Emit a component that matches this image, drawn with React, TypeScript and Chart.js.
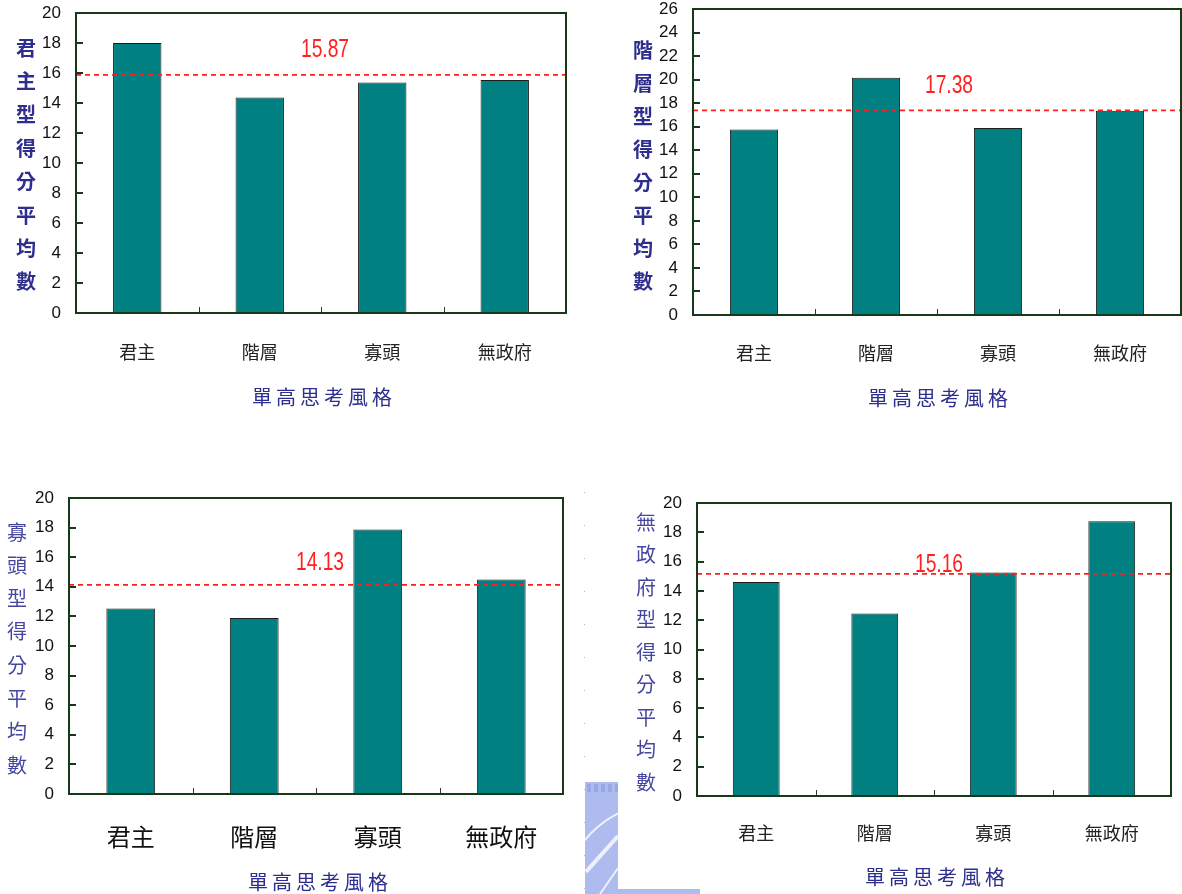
import { useEffect, useRef } from 'react';
import { Chart, registerables } from 'chart.js';

Chart.register(...registerables);

// Thinking-style categories on the x axis
const categories = ['君主', '階層', '寡頭', '無政府'];

// Mean score on each style scale, per high-scoring style group
const monarchicScores = [18.0, 14.37, 15.37, 15.53];
const hierarchicScores = [15.77, 20.15, 15.88, 17.36];
const oligarchicScores = [12.54, 11.89, 17.88, 14.5];
const anarchicScores = [14.6, 12.46, 15.26, 18.75];

// Overall mean of each scale, drawn as the dashed reference line
const overallMeans = [15.87, 17.38, 14.13, 15.16];

// Y-axis range of each panel
const yMaxValues = [20, 26, 20, 20];
const yStep = 2;

const yTitles = ['君主型得分平均數', '階層型得分平均數', '寡頭型得分平均數', '無政府型得分平均數'];
const xTitle = '單高思考風格';

const seriesList = [monarchicScores, hierarchicScores, oligarchicScores, anarchicScores];

const CJK = '"Noto Sans CJK TC", "Noto Sans CJK SC", sans-serif';
const NUM = '"Liberation Sans", Arial, sans-serif';
const FRAME = '#173917';
const BAR_FILL = '#008080';
const NAVY = '#2E2E8E';

type PanelLayout = {
  left: number; top: number; width: number; height: number;
  plot: { l: number; t: number; r: number; b: number };
  yTitleX: number; yTitleY0: number; yTitleStep: number; yTitleWeight: string; yTitleColor: string;
  xTitleX: number; xTitleY: number;
  xTickSize: number; xTickCenter: number; xTickColor: string;
  labelDx: number; labelDy: number;
};

const layouts: PanelLayout[] = [
  {
    left: 0, top: 0, width: 590, height: 420,
    plot: { l: 76, t: 13, r: 566, b: 313 },
    yTitleX: 26, yTitleY0: 48, yTitleStep: 33.4, yTitleWeight: 'bold', yTitleColor: NAVY,
    xTitleX: 322, xTitleY: 397,
    xTickSize: 18, xTickCenter: 352, xTickColor: '#222',
    labelDx: 4, labelDy: 25,
  },
  {
    left: 590, top: 0, width: 592, height: 420,
    plot: { l: 103, t: 9, r: 591, b: 315 },
    yTitleX: 53, yTitleY0: 50, yTitleStep: 33, yTitleWeight: 'bold', yTitleColor: NAVY,
    xTitleX: 348, xTitleY: 398,
    xTickSize: 18, xTickCenter: 353, xTickColor: '#222',
    labelDx: 12, labelDy: 25,
  },
  {
    left: 0, top: 470, width: 584, height: 424,
    plot: { l: 69, t: 28, r: 563, b: 324 },
    yTitleX: 17, yTitleY0: 62, yTitleStep: 33.3, yTitleWeight: 'normal', yTitleColor: '#4646A0',
    xTitleX: 318, xTitleY: 412,
    xTickSize: 24, xTickCenter: 367, xTickColor: '#111',
    labelDx: 4, labelDy: 22,
  },
  {
    left: 620, top: 470, width: 562, height: 424,
    plot: { l: 77, t: 33, r: 551, b: 326 },
    yTitleX: 26, yTitleY0: 52, yTitleStep: 32.5, yTitleWeight: 'normal', yTitleColor: '#4646A0',
    xTitleX: 315, xTitleY: 407,
    xTickSize: 18, xTickCenter: 363, xTickColor: '#222',
    labelDx: 5, labelDy: 9,
  },
];

// Frame, inward tick marks, mean line with its value, and the axis titles
const panelDecorations = {
  id: 'panelDecorations',
  afterDatasetsDraw(chart: any, _args: any, opts: any) {
    const { ctx, chartArea: a, scales } = chart;
    const xs = scales.x;
    const ys = scales.y;
    const lay: PanelLayout = opts.layout;
    ctx.save();

    // inward y tick marks
    ctx.strokeStyle = FRAME;
    ctx.lineWidth = 2;
    ys.ticks.forEach((t: any) => {
      const py = Math.round(ys.getPixelForValue(t.value));
      ctx.beginPath();
      ctx.moveTo(a.left, py);
      ctx.lineTo(a.left + 7, py);
      ctx.stroke();
    });

    // category boundary ticks on the bottom axis
    ctx.strokeStyle = '#333';
    ctx.lineWidth = 1;
    for (let i = 1; i < categories.length; i++) {
      const px = Math.round(xs.getPixelForValue(i - 0.5)) + 0.5;
      ctx.beginPath();
      ctx.moveTo(px, a.bottom);
      ctx.lineTo(px, a.bottom - 6);
      ctx.stroke();
    }

    // dashed overall-mean line
    const my = ys.getPixelForValue(opts.mean);
    ctx.setLineDash([5, 4]);
    ctx.strokeStyle = '#FF1E1E';
    ctx.lineWidth = 1.8;
    ctx.beginPath();
    ctx.moveTo(a.left, my);
    ctx.lineTo(a.right, my);
    ctx.stroke();
    ctx.setLineDash([]);

    // plot frame
    ctx.strokeStyle = FRAME;
    ctx.lineWidth = 2;
    ctx.strokeRect(a.left, a.top, a.right - a.left, a.bottom - a.top);

    // mean value label (condensed)
    ctx.save();
    ctx.translate(xs.getPixelForValue(1.5) + lay.labelDx, my - lay.labelDy);
    ctx.scale(0.74, 1);
    ctx.font = `26px ${NUM}`;
    ctx.fillStyle = '#FF2020';
    ctx.textAlign = 'center';
    ctx.textBaseline = 'middle';
    ctx.fillText(opts.mean.toFixed(2), 0, 0);
    ctx.restore();

    // vertical y-axis title, one character per line
    ctx.fillStyle = lay.yTitleColor;
    ctx.font = `${lay.yTitleWeight} 20px ${CJK}`;
    ctx.textAlign = 'center';
    ctx.textBaseline = 'middle';
    Array.from(opts.yTitle as string).forEach((ch, i) => {
      ctx.fillText(ch, lay.yTitleX, lay.yTitleY0 + i * lay.yTitleStep);
    });

    // x-axis title with widened character spacing
    ctx.fillStyle = NAVY;
    ctx.font = `20px ${CJK}`;
    const chars = Array.from(xTitle);
    chars.forEach((ch, i) => {
      ctx.fillText(ch, lay.xTitleX + (i - (chars.length - 1) / 2) * 24, lay.xTitleY);
    });

    ctx.restore();
  },
};

function Panel({ index }: { index: number }) {
  const ref = useRef<HTMLCanvasElement>(null);
  const lay = layouts[index];

  useEffect(() => {
    const canvas = ref.current;
    if (!canvas) return;
    const { plot } = lay;
    const chart = new Chart(canvas, {
      type: 'bar',
      data: {
        labels: categories,
        datasets: [
          {
            data: seriesList[index],
            backgroundColor: BAR_FILL,
            borderColor: '#1c1c1c',
            borderWidth: 1,
            categoryPercentage: 1,
            barPercentage: 0.395,
          },
        ],
      },
      options: {
        responsive: false,
        animation: false,
        layout: { padding: { left: 0, top: plot.t, right: lay.width - plot.r, bottom: 0 } },
        plugins: {
          legend: { display: false },
          tooltip: { enabled: false },
          panelDecorations: { layout: lay, mean: overallMeans[index], yTitle: yTitles[index] },
        } as any,
        scales: {
          x: {
            offset: true,
            grid: { display: false, drawTicks: false },
            border: { display: false },
            ticks: {
              color: lay.xTickColor,
              font: { family: CJK, size: lay.xTickSize, lineHeight: 1 },
              padding: lay.xTickCenter - plot.b - lay.xTickSize / 2,
              maxRotation: 0,
              autoSkip: false,
            },
            afterFit: (s: any) => { s.height = lay.height - plot.b; },
          },
          y: {
            min: 0,
            max: yMaxValues[index],
            // hidden tick marks only reserve the gap between labels and frame
            grid: { display: false, drawTicks: true, tickLength: 15 },
            border: { display: false },
            ticks: {
              stepSize: yStep,
              color: '#111',
              font: { family: NUM, size: 17, lineHeight: 1 },
              padding: 0,
            },
            afterFit: (s: any) => { s.width = plot.l; },
          },
        },
      },
      plugins: [panelDecorations],
    });
    return () => chart.destroy();
  }, [index]);

  return (
    <canvas
      ref={ref}
      width={lay.width}
      height={lay.height}
      style={{ position: 'absolute', left: lay.left, top: lay.top, width: lay.width, height: lay.height }}
    />
  );
}

// Page backdrop: dotted page divider and the corner of the seal emblem
function Backdrop() {
  const ref = useRef<HTMLCanvasElement>(null);
  useEffect(() => {
    const c = ref.current;
    if (!c) return;
    const ctx = c.getContext('2d');
    if (!ctx) return;
    ctx.clearRect(0, 0, c.width, c.height);
    ctx.fillStyle = '#b8b8b8';
    for (let y = 492; y < 894; y += 33) ctx.fillRect(584, y, 1, 1);

    ctx.save();
    ctx.beginPath();
    ctx.rect(585, 782, 33, 112);
    ctx.rect(618, 889, 82, 5);
    ctx.clip();
    ctx.fillStyle = '#AEBBEE';
    ctx.fillRect(585, 782, 120, 112);
    ctx.fillStyle = '#98A8E6';
    for (let x = 587; x < 618; x += 7) ctx.fillRect(x, 784, 4, 8);
    ctx.strokeStyle = '#EEF1FB';
    ctx.lineWidth = 2;
    ctx.beginPath();
    ctx.arc(660, 900, 96, Math.PI * 1.05, Math.PI * 1.5);
    ctx.stroke();
    ctx.lineWidth = 4;
    ctx.beginPath();
    ctx.moveTo(586, 872);
    ctx.lineTo(618, 836);
    ctx.stroke();
    ctx.lineWidth = 2;
    ctx.beginPath();
    ctx.moveTo(600, 894);
    ctx.lineTo(618, 868);
    ctx.stroke();
    ctx.restore();
  }, []);
  return (
    <canvas
      ref={ref}
      width={1182}
      height={894}
      style={{ position: 'absolute', left: 0, top: 0, width: 1182, height: 894 }}
    />
  );
}

export default function App() {
  return (
    <div style={{ position: 'absolute', left: 0, top: 0, width: 1182, height: 894, background: '#fff', overflow: 'hidden' }}>
      <Backdrop />
      {layouts.map((_, i) => (
        <Panel key={i} index={i} />
      ))}
    </div>
  );
}
